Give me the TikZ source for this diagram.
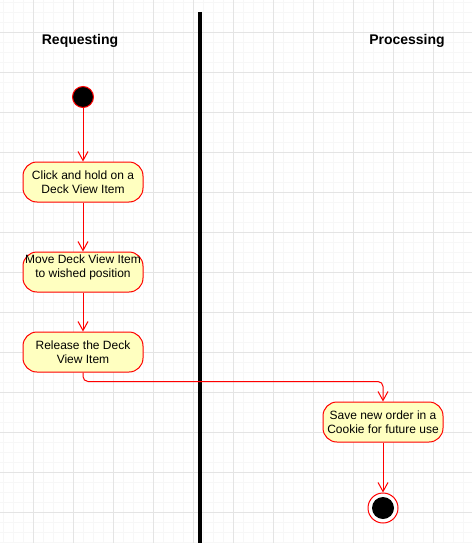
\documentclass[tikz,border=0pt]{standalone}
\usepackage{fontspec}
\setmainfont{Liberation Sans}
\usetikzlibrary{arrows.meta}
\definecolor{notefill}{HTML}{FFFFC0}
\definecolor{gridmajor}{HTML}{E4E4E4}
\definecolor{gridminor}{HTML}{F7F7F7}

\begin{document}
\begin{tikzpicture}[
  x=1pt, y=-1pt,
  every node/.style={font=\fontsize{12}{13.5}\selectfont},
  activity/.style={draw=red, line width=1pt, fill=notefill, rounded corners=14pt,
    minimum width=120pt, minimum height=40pt, align=center, inner sep=0pt},
  lane/.style={font=\fontsize{14}{16}\selectfont\bfseries},
  flow/.style={draw=red, line width=1pt, -{Straight Barb[length=9pt,width=10pt]}}
]
  \useasboundingbox (0,0) rectangle (472,543);
  \fill[white] (0,0) rectangle (472,543);

  % Grid
  \foreach \x in {3,13,...,473} \draw[gridminor] (\x,0) -- (\x,543);
  \foreach \y in {2,12,...,542} \draw[gridminor] (0,\y) -- (472,\y);
  \foreach \x in {33,73,...,473} \draw[gridmajor] (\x,0) -- (\x,543);
  \foreach \y in {32,72,...,542} \draw[gridmajor] (0,\y) -- (472,\y);

  % Swimlanes
  \node[lane] (requesting) at (80,41) {Requesting};
  \node[lane] (processing) at (407,41) {Processing};
  \draw[line width=4pt] (200,12) -- (200,543);

  % Requesting lane
  \node[circle, draw=red, line width=1pt, fill=black, minimum size=21pt, inner sep=0pt] (start) at (83,97) {};
  \node[activity] (click) at (83,182) {Click and hold on a\\Deck View Item};
  \node[activity, text depth=12pt] (move) at (83,272) {Move Deck View Item\\to wished position};
  \node[activity] (release) at (83,352) {Release the Deck\\View Item};

  % Processing lane
  \node[activity] (save) at (383,422) {Save new order in a\\Cookie for future use};
  \node[circle, draw=red, line width=1pt, fill=white, minimum size=30pt, inner sep=0pt,
    path picture={\fill[black] (path picture bounding box.center) circle (11pt);}] (stop) at (383,508) {};

  % Arrows
  \foreach \a/\b in {start/click, click/move, move/release, save/stop} {
  \draw[flow] (\a) -- (\b);
  }
  \draw[flow, rounded corners=5pt] (release.south) -- ++(0,9) -| (save.north);
\end{tikzpicture}
\end{document}
